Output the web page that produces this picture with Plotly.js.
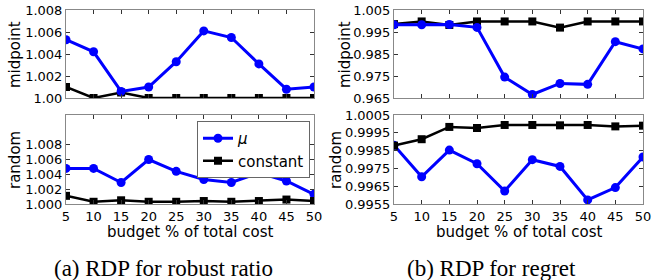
<!DOCTYPE html>
<html>
<head>
<meta charset="utf-8">
<script src="https://cdn.plot.ly/plotly-3.0.1.min.js"></script>
<style>html,body{margin:0;padding:0;background:#fff;}#chart{width:652px;height:280px;}</style>
</head>
<body>
<div id="chart"></div>
<script>
const budget = [5, 10, 15, 20, 25, 30, 35, 40, 45, 50];

const ratioMidMu    = [1.0053, 1.0042, 1.0006, 1.0010, 1.0033, 1.0061, 1.0055, 1.0031, 1.0008, 1.0010];
const ratioMidConst = [1.0010, 1.0000, 1.0005, 1.0000, 1.0000, 1.0000, 1.0000, 1.0000, 1.0000, 1.0000];
const ratioRndMu    = [1.0048, 1.0048, 1.0029, 1.0060, 1.0044, 1.0033, 1.0029, 1.0042, 1.0031, 1.0013];
const ratioRndConst = [1.0011, 1.0003, 1.0005, 1.0003, 1.0003, 1.0004, 1.0003, 1.0004, 1.0006, 1.0004];

const regretMidMu    = [0.9983, 0.9983, 0.9984, 0.9971, 0.9745, 0.9666, 0.9716, 0.9712, 0.9906, 0.9873];
const regretMidConst = [0.9986, 0.9998, 0.9982, 0.9998, 0.9998, 0.9998, 0.9970, 0.9998, 0.9998, 0.9998];
const regretRndMu    = [0.9988, 0.99703, 0.99853, 0.99776, 0.99623, 0.99799, 0.99761, 0.99573, 0.99642, 0.99814];
const regretRndConst = [0.99878, 0.99914, 0.99983, 0.99977, 0.99994, 0.99994, 0.99992, 0.99994, 0.99986, 0.99990];

const xTicks = budget;
const yTicksRatioMid = [1.000, 1.002, 1.004, 1.006, 1.008];
const yTextRatioMid  = ["1.00", "1.002", "1.004", "1.006", "1.008"];
const yTicksRatioRnd = [1.000, 1.002, 1.004, 1.006, 1.008];
const yTextRatioRnd  = ["1.000", "1.002", "1.004", "1.006", "1.008"];
const yTicksRegMid = [0.965, 0.975, 0.985, 0.995, 1.005];
const yTextRegMid  = ["0.965", "0.975", "0.985", "0.995", "1.005"];
const yTicksRegRnd = [0.9955, 0.9965, 0.9975, 0.9985, 0.9995, 1.0005];
const yTextRegRnd  = ["0.9955", "0.9965", "0.9975", "0.9985", "0.9995", "1.0005"];

const seriesNames = ["<i>μ</i>", "constant"];

const BLUE = "#0000ff", BLACK = "#000000";
function muTrace(y, xa, ya, show) {
  return {x: budget, y: y, xaxis: xa, yaxis: ya, type: "scatter", mode: "lines+markers",
    name: seriesNames[0], showlegend: show, line: {color: BLUE, width: 3},
    marker: {color: BLUE, size: 9, symbol: "circle"}};
}
function constTrace(y, xa, ya, show) {
  return {x: budget, y: y, xaxis: xa, yaxis: ya, type: "scatter", mode: "lines+markers",
    name: seriesNames[1], showlegend: show, line: {color: BLACK, width: 2.5},
    marker: {color: BLACK, size: 8, symbol: "square"}};
}

const data = [
  constTrace(ratioMidConst, "x", "y", false), muTrace(ratioMidMu, "x", "y", false),
  muTrace(ratioRndMu, "x2", "y2", true), constTrace(ratioRndConst, "x2", "y2", true),
  constTrace(regretMidConst, "x3", "y3", false), muTrace(regretMidMu, "x3", "y3", false),
  muTrace(regretRndMu, "x4", "y4", false), constTrace(regretRndConst, "x4", "y4", false)
];

const W = 652, H = 280;
const L = [66 / W, 314 / W], R = [394 / W, 643 / W];
const TOP = [1 - 98 / H, 1 - 10 / H], BOT = [1 - 204 / H, 1 - 115 / H];
const tickFont = {family: "DejaVu Sans", size: 13, color: "#000"};

function xax(domain, anchor, labels) {
  return {domain: domain, anchor: anchor, range: [5, 50], tickvals: xTicks,
    ticktext: xTicks.map(String), showticklabels: labels, ticks: "inside", ticklen: 4,
    tickcolor: "#333", showline: true, linecolor: "#888", linewidth: 1, mirror: "ticks",
    showgrid: false, zeroline: false, tickfont: tickFont, ticklabelstandoff: 0};
}
function yax(domain, anchor, range, vals, text) {
  return {domain: domain, anchor: anchor, range: range, tickvals: vals, ticktext: text,
    ticks: "inside", ticklen: 4, tickcolor: "#333", showline: true, linecolor: "#888",
    linewidth: 1, mirror: "ticks", showgrid: false, zeroline: false, tickfont: tickFont};
}

const annFont = {family: "DejaVu Sans", size: 15, color: "#000"};
function ann(text, px, py, angle, font) {
  return {text: text, x: px / W, y: 1 - py / H, xref: "paper", yref: "paper",
    showarrow: false, textangle: angle, font: font, xanchor: "center", yanchor: "middle"};
}
const capFont = {family: "Liberation Serif", size: 23, color: "#000"};

const layout = {
  width: W, height: H, margin: {l: 0, r: 0, t: 0, b: 0},
  paper_bgcolor: "#fff", plot_bgcolor: "#fff", showlegend: true,
  xaxis: xax(L, "y", false),
  yaxis: yax(TOP, "x", [1.000, 1.008], yTicksRatioMid, yTextRatioMid),
  xaxis2: xax(L, "y2", true),
  yaxis2: yax(BOT, "x2", [1.000, 1.012], yTicksRatioRnd, yTextRatioRnd),
  xaxis3: xax(R, "y3", false),
  yaxis3: yax(TOP, "x3", [0.965, 1.005], yTicksRegMid, yTextRegMid),
  xaxis4: xax(R, "y4", true),
  yaxis4: yax(BOT, "x4", [0.9955, 1.0005], yTicksRegRnd, yTextRegRnd),
  legend: {x: 197 / W, y: 1 - 121 / H, xanchor: "left", yanchor: "top",
    bordercolor: "#666", borderwidth: 1, bgcolor: "#fff",
    font: {family: "DejaVu Sans", size: 15, color: "#000"}, itemwidth: 30, tracegroupgap: 0},
  annotations: [
    ann("midpoint", 15, 55, -90, annFont),
    ann("random", 15, 160, -90, annFont),
    ann("midpoint", 345, 55, -90, annFont),
    ann("random", 336, 160, -90, annFont),
    ann("budget % of total cost", 190, 232, 0, annFont),
    ann("budget % of total cost", 519, 232, 0, annFont),
    ann("(a) RDP for robust ratio", 163, 268, 0, capFont),
    ann("(b) RDP for regret", 491, 268, 0, capFont)
  ]
};

Plotly.newPlot("chart", data, layout, {staticPlot: true, displayModeBar: false});
</script>
</body>
</html>
